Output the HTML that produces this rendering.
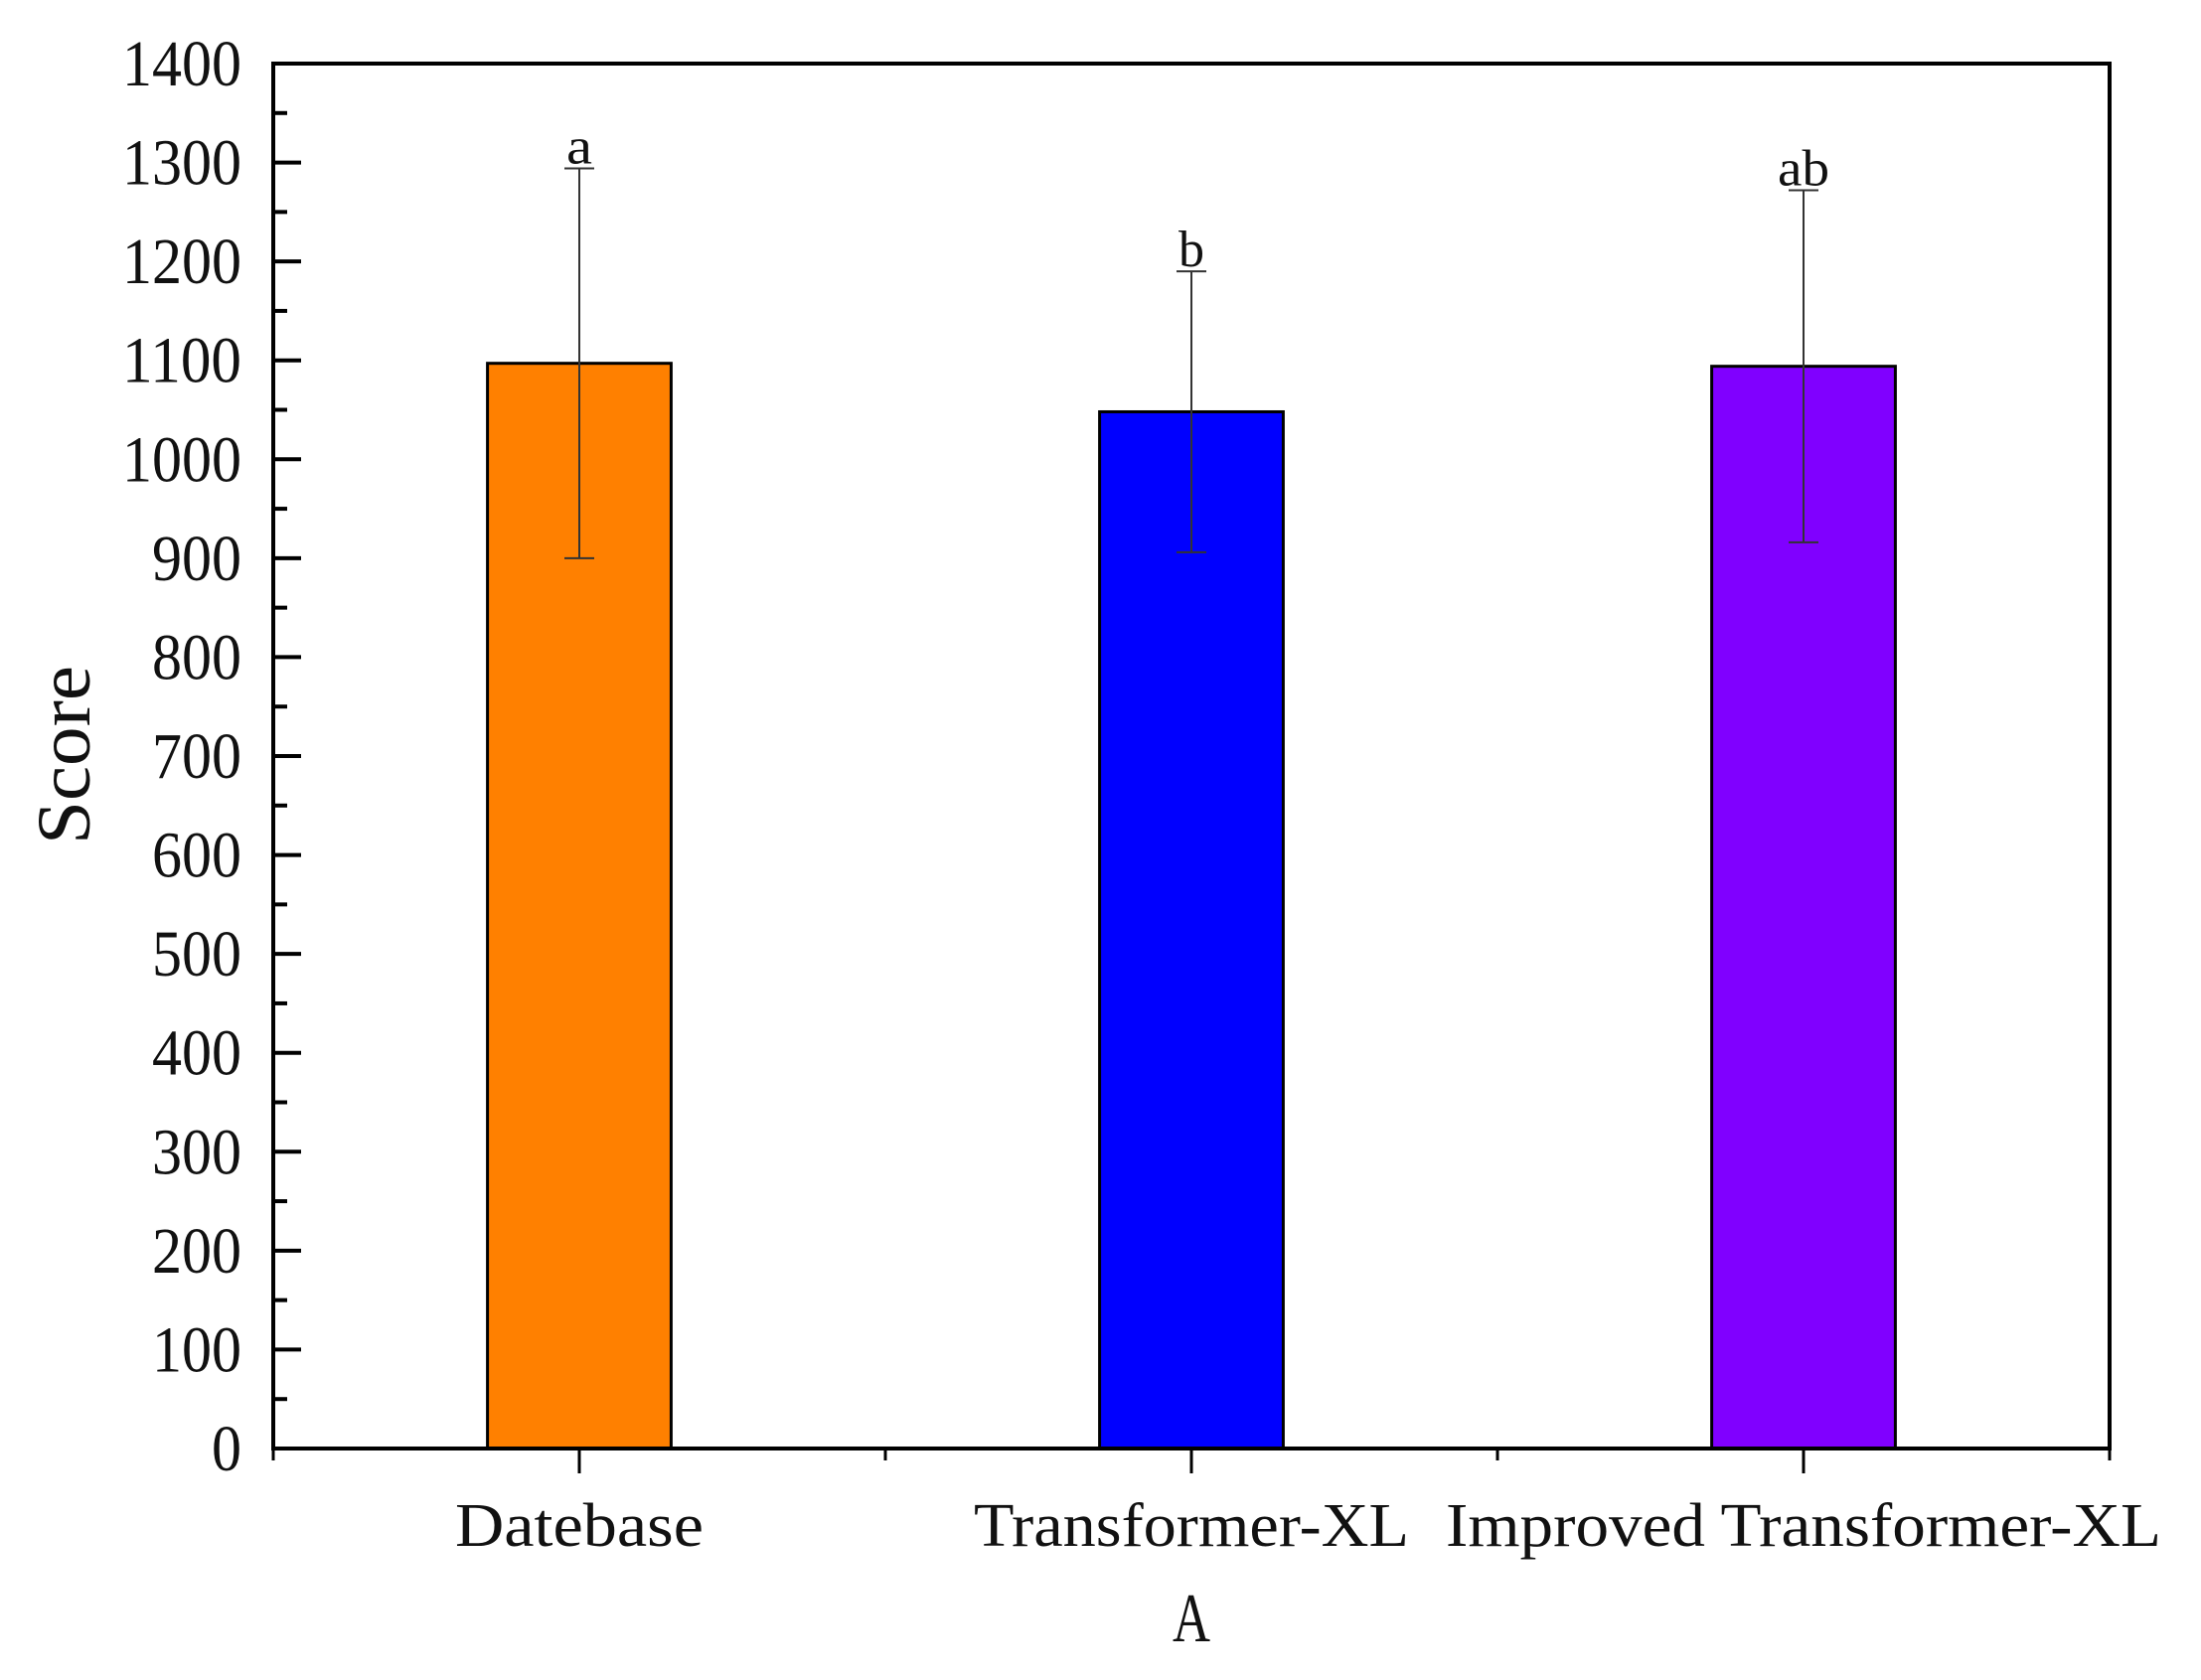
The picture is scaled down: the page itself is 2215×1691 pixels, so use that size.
<!DOCTYPE html>
<html><head><meta charset="utf-8"><style>
html,body{margin:0;padding:0;background:#fff;}
svg{display:block;}
text{font-family:"Liberation Serif","Noto Serif CJK SC",serif;fill:#111;}
</style></head><body>
<svg id="chart" width="2215" height="1691" viewBox="0 0 2215 1691" xmlns="http://www.w3.org/2000/svg"></svg>
<script>
const categories = ["Datebase", "Transformer-XL", "Improved Transformer-XL"];
const means = [1097, 1048, 1094];
const errors = [197, 142, 178];
const sigLetters = ["a", "b", "ab"];
const colors = ["#ff8000", "#0000ff", "#8000ff"];
const yTicks = [0,100,200,300,400,500,600,700,800,900,1000,1100,1200,1300,1400];

const L=275, R=2123, T=64, B=1458;
const yMax=1400;
function y(v){return B-(v/yMax)*(B-T);}
const step=(R-L)/categories.length;
function x(i){return L+step*(i+0.5);}
const svg=document.getElementById('chart');
const NS="http://www.w3.org/2000/svg";
function mk(tag,attrs,parent){const e=document.createElementNS(NS,tag);for(const k in attrs)e.setAttribute(k,attrs[k]);(parent||svg).appendChild(e);return e;}

categories.forEach((c,i)=>{
  const bw=step*0.3;
  const r=mk('rect',{x:x(i)-bw/2,y:y(means[i]),width:bw,height:B-y(means[i]),fill:colors[i],stroke:'#000','stroke-width':3});
  
  
  const g=mk('g',{stroke:'#333','stroke-width':2});
  
  
  const t=y(means[i]+errors[i]), b=y(means[i]-errors[i]);
  mk('line',{x1:x(i),x2:x(i),y1:t,y2:b},g);
  mk('line',{x1:x(i)-15,x2:x(i)+15,y1:t,y2:t},g);
  mk('line',{x1:x(i)-15,x2:x(i)+15,y1:b,y2:b},g);
  const s=mk('text',{x:x(i),y:t-5,'text-anchor':'middle','font-size':52,textLength:sigLetters[i].length*26,lengthAdjust:'spacingAndGlyphs'});
  s.textContent=sigLetters[i];
  
  
  const lw=[250,438,720][i];
  const xl=mk('text',{x:x(i),y:1556,'text-anchor':'middle','font-size':62,textLength:lw,lengthAdjust:'spacingAndGlyphs'});
  xl.textContent=c;
  
  
});

const frame=mk('rect',{x:L,y:T,width:R-L,height:B-T,fill:'none',stroke:'#000','stroke-width':4});



yTicks.forEach((v,k)=>{
  mk('line',{x1:L,x2:L+28,y1:y(v),y2:y(v),stroke:'#000','stroke-width':4});
  if(k<yTicks.length-1) mk('line',{x1:L,x2:L+14,y1:y(v+50),y2:y(v+50),stroke:'#000','stroke-width':4});
  const s=String(v);
  const tl=mk('text',{x:243,y:y(v)+22,'text-anchor':'end','font-size':66,textLength:s.length*30,lengthAdjust:'spacingAndGlyphs'});
  tl.textContent=s;
  
  
});
for(let i=0;i<=categories.length;i++){
  mk('line',{x1:L+step*i,x2:L+step*i,y1:B,y2:B+12,stroke:'#000','stroke-width':3});
}
categories.forEach((c,i)=>mk('line',{x1:x(i),x2:x(i),y1:B,y2:B+25,stroke:'#000','stroke-width':3}));

const xt=mk('text',{x:x(1),y:1652,'text-anchor':'middle','font-size':70,textLength:38,lengthAdjust:'spacingAndGlyphs'});
xt.textContent='A';


const yt=mk('text',{x:0,y:0,'text-anchor':'middle','font-size':76,textLength:180,lengthAdjust:'spacingAndGlyphs',transform:'translate(90,760) rotate(-90)'});
yt.textContent='Score';


</script>
</body></html>
